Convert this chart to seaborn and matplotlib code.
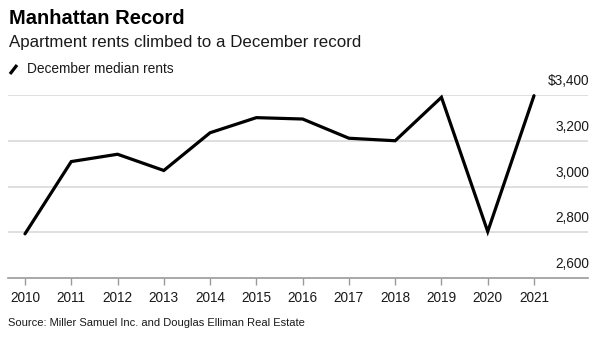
import matplotlib
matplotlib.use("Agg")
import matplotlib.pyplot as plt
import matplotlib.transforms as mtransforms
from matplotlib.lines import Line2D
import seaborn as sns
import pandas as pd

years = [2010, 2011, 2012, 2013, 2014, 2015, 2016, 2017, 2018, 2019, 2020, 2021]
rents = [2793, 3109, 3141, 3070, 3235, 3301, 3295, 3211, 3200, 3390, 2803, 3397]
y_ticks = [2600, 2800, 3000, 3200, 3400]
y_labels = ["2,600", "2,800", "3,000", "3,200", "$3,400"]

sns.set_theme(style="white")
plt.rcParams['font.family'] = ['Liberation Sans', 'DejaVu Sans']

df = pd.DataFrame({"year": years, "rent": rents})

fig = plt.figure(figsize=(6, 3.38), dpi=100)
ax = fig.add_axes([8/600, 60/338, 580/600, 183/338])

for v in y_ticks[1:]:
    ax.axhline(v, color="#dcdcdc", lw=1.3, zorder=0)

sns.lineplot(data=df, x="year", y="rent", ax=ax, color="black", lw=2.3,
             clip_on=False, zorder=3)
for l in ax.lines:
    l.set_solid_joinstyle("miter")

ax.set_xlim(2009.633, 2022.167)
ax.set_ylim(2600, 3400)
ax.set_xlabel("")
ax.set_ylabel("")
for s in ["top", "right", "left"]:
    ax.spines[s].set_visible(False)
ax.spines["bottom"].set_color("#9a9a9a")
ax.spines["bottom"].set_linewidth(1.2)
ax.set_xticks(years)
ax.set_xticklabels([str(y) for y in years], fontsize=9.8, color="#1a1a1a")
ax.tick_params(axis="x", bottom=True, length=5, width=1, color="#9a9a9a", pad=4.5)
ax.set_yticks([])

trans = mtransforms.blended_transform_factory(ax.transAxes, ax.transData)
for v, lab in zip(y_ticks, y_labels):
    ax.annotate(lab, xy=(1.003, v), xycoords=trans, xytext=(0, 5),
                textcoords="offset points", ha="right", va="bottom",
                fontsize=9.8, color="#1a1a1a")

fig.text(9/600, 1 - 18/338, "Manhattan Record", fontsize=14.5, fontweight="bold",
         va="center", ha="left", color="black")
fig.text(9/600, 1 - 43/338, "Apartment rents climbed to a December record",
         fontsize=12.2, va="center", ha="left", color="#1a1a1a")
fig.add_artist(Line2D([10/600, 17/600], [1 - 74/338, 1 - 65/338],
                      transform=fig.transFigure, color="black", lw=2.3,
                      solid_capstyle="butt"))
fig.text(27/600, 1 - 69/338, "December median rents", fontsize=9.9,
         va="center", ha="left", color="#1a1a1a")
fig.text(8/600, 1 - 323/338,
         "Source: Miller Samuel Inc. and Douglas Elliman Real Estate",
         fontsize=8.0, va="center", ha="left", color="#1a1a1a")

fig.savefig("out.png", dpi=100, facecolor="white")
